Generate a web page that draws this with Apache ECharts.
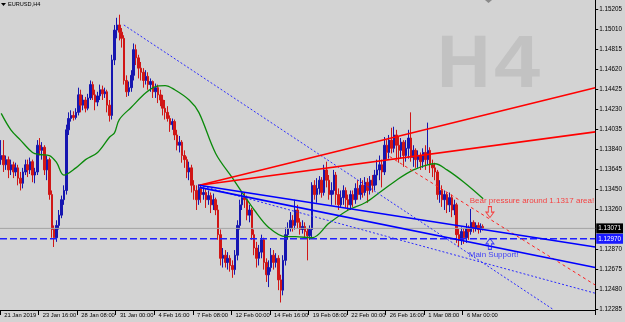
<!DOCTYPE html>
<html><head><meta charset="utf-8">
<script src="https://cdn.jsdelivr.net/npm/echarts@6/dist/echarts.min.js"></script>
<style>html,body{margin:0;padding:0;background:#d3d3d3}#c{width:625px;height:322px}</style>
</head><body><div id="c"></div>
<script>
// ---------- data ----------
const barCount = 247; // visible slots incl. right shift
const tickLabels = ['21 Jan 2019','23 Jan 16:00','28 Jan 08:00','31 Jan 00:00','4 Feb 16:00','7 Feb 08:00','12 Feb 00:00','14 Feb 16:00','19 Feb 08:00','22 Feb 00:00','26 Feb 16:00','1 Mar 08:00','6 Mar 00:00'];
const yTickValues = [1.15205,1.15010,1.14815,1.14620,1.14425,1.14230,1.14035,1.13840,1.13645,1.13450,1.13260,1.12870,1.12675,1.12480,1.12285];
const yMin = 1.12277, yMax = 1.15293;
const bidPrice = 1.13071;
const supportPrice = 1.12970;
// [open, close, low, high]
const candles = [
[1.1374,1.1378,1.1369,1.1393],[1.1378,1.1369,1.1362,1.1393],[1.1369,1.1374,1.1364,1.1378],[1.1374,1.1364,1.1356,1.1377],
[1.1364,1.1369,1.1359,1.1374],[1.1369,1.1362,1.1356,1.1372],[1.1362,1.1366,1.1358,1.1371],[1.1366,1.1356,1.1349,1.1369],
[1.1356,1.1351,1.1344,1.1362],[1.1351,1.1362,1.1346,1.1366],[1.1362,1.1369,1.1359,1.1374],[1.1369,1.1364,1.1357,1.1374],
[1.1364,1.1372,1.1360,1.1376],[1.1372,1.1359,1.1352,1.1374],[1.1359,1.1362,1.1351,1.1366],[1.1362,1.1388,1.1359,1.1393],
[1.1388,1.1383,1.1378,1.1395],[1.1383,1.1386,1.1374,1.1391],[1.1386,1.1364,1.1359,1.1388],[1.1364,1.1374,1.1354,1.1378],
[1.1374,1.1340,1.1335,1.1376],[1.1340,1.1306,1.1298,1.1344],[1.1306,1.1298,1.1289,1.1310],[1.1298,1.1310,1.1294,1.1315],
[1.1310,1.1320,1.1306,1.1325],[1.1320,1.1335,1.1317,1.1339],[1.1335,1.1344,1.1330,1.1349],[1.1344,1.1403,1.1340,1.1408],
[1.1403,1.1414,1.1398,1.1420],[1.1414,1.1417,1.1411,1.1422],[1.1417,1.1415,1.1412,1.1421],[1.1415,1.1420,1.1413,1.1424],
[1.1420,1.1437,1.1417,1.1444],[1.1437,1.1427,1.1420,1.1442],[1.1427,1.1432,1.1422,1.1437],[1.1432,1.1424,1.1420,1.1435],
[1.1424,1.1434,1.1422,1.1438],[1.1434,1.1447,1.1432,1.1451],[1.1447,1.1437,1.1432,1.1450],[1.1437,1.1430,1.1422,1.1442],
[1.1430,1.1436,1.1426,1.1440],[1.1436,1.1442,1.1432,1.1447],[1.1442,1.1438,1.1432,1.1446],[1.1438,1.1440,1.1434,1.1444],
[1.1440,1.1427,1.1420,1.1442],[1.1427,1.1417,1.1411,1.1432],[1.1417,1.1471,1.1413,1.1476],[1.1471,1.1500,1.1466,1.1505],
[1.1500,1.1505,1.1492,1.1512],[1.1505,1.1498,1.1490,1.1515],[1.1498,1.1492,1.1483,1.1502],[1.1492,1.1451,1.1447,1.1495],
[1.1451,1.1440,1.1435,1.1456],[1.1440,1.1444,1.1436,1.1450],[1.1444,1.1456,1.1440,1.1461],[1.1456,1.1481,1.1451,1.1487],
[1.1481,1.1473,1.1466,1.1486],[1.1473,1.1463,1.1453,1.1476],[1.1463,1.1459,1.1451,1.1469],[1.1459,1.1451,1.1444,1.1463],
[1.1451,1.1455,1.1447,1.1461],[1.1455,1.1447,1.1442,1.1459],[1.1447,1.1450,1.1440,1.1453],[1.1450,1.1440,1.1434,1.1451],
[1.1440,1.1444,1.1434,1.1448],[1.1444,1.1437,1.1429,1.1447],[1.1437,1.1432,1.1426,1.1442],[1.1432,1.1424,1.1417,1.1437],
[1.1424,1.1420,1.1413,1.1432],[1.1420,1.1414,1.1411,1.1426],[1.1414,1.1408,1.1401,1.1417],[1.1408,1.1411,1.1403,1.1414],
[1.1411,1.1398,1.1393,1.1413],[1.1398,1.1388,1.1383,1.1403],[1.1388,1.1391,1.1381,1.1397],[1.1391,1.1378,1.1371,1.1393],
[1.1378,1.1374,1.1366,1.1383],[1.1374,1.1362,1.1356,1.1377],[1.1362,1.1366,1.1354,1.1372],[1.1366,1.1349,1.1342,1.1369],
[1.1349,1.1344,1.1335,1.1354],[1.1344,1.1335,1.1325,1.1349],[1.1335,1.1346,1.1330,1.1350],[1.1346,1.1340,1.1332,1.1349],
[1.1340,1.1342,1.1335,1.1347],[1.1342,1.1335,1.1327,1.1346],[1.1335,1.1339,1.1330,1.1344],[1.1339,1.1330,1.1322,1.1342],
[1.1330,1.1335,1.1325,1.1341],[1.1335,1.1325,1.1320,1.1337],[1.1325,1.1301,1.1296,1.1330],[1.1301,1.1278,1.1271,1.1306],
[1.1278,1.1281,1.1269,1.1288],[1.1281,1.1274,1.1269,1.1286],[1.1274,1.1278,1.1267,1.1284],[1.1278,1.1271,1.1265,1.1281],
[1.1271,1.1267,1.1259,1.1276],[1.1267,1.1281,1.1262,1.1286],[1.1281,1.1310,1.1276,1.1315],[1.1310,1.1330,1.1306,1.1335],
[1.1330,1.1337,1.1325,1.1342],[1.1337,1.1335,1.1327,1.1342],[1.1335,1.1320,1.1315,1.1339],[1.1320,1.1325,1.1313,1.1330],
[1.1325,1.1301,1.1296,1.1327],[1.1301,1.1288,1.1281,1.1306],[1.1288,1.1278,1.1269,1.1294],[1.1278,1.1284,1.1271,1.1291],
[1.1284,1.1296,1.1278,1.1301],[1.1296,1.1274,1.1267,1.1298],[1.1274,1.1262,1.1255,1.1278],[1.1262,1.1269,1.1250,1.1276],
[1.1269,1.1281,1.1265,1.1288],[1.1281,1.1274,1.1267,1.1286],[1.1274,1.1278,1.1269,1.1283],[1.1278,1.1257,1.1247,1.1281],
[1.1257,1.1247,1.1235,1.1262],[1.1247,1.1276,1.1242,1.1281],[1.1276,1.1301,1.1271,1.1308],[1.1301,1.1307,1.1296,1.1313],
[1.1307,1.1315,1.1304,1.1323],[1.1315,1.1310,1.1304,1.1320],[1.1310,1.1325,1.1306,1.1335],[1.1325,1.1313,1.1307,1.1330],
[1.1313,1.1306,1.1301,1.1317],[1.1306,1.1309,1.1302,1.1315],[1.1309,1.1304,1.1298,1.1313],[1.1304,1.1300,1.1276,1.1307],
[1.1300,1.1306,1.1296,1.1310],[1.1306,1.1349,1.1298,1.1352],[1.1349,1.1340,1.1335,1.1354],[1.1340,1.1346,1.1332,1.1356],
[1.1346,1.1354,1.1340,1.1358],[1.1354,1.1342,1.1337,1.1357],[1.1342,1.1364,1.1339,1.1369],[1.1364,1.1354,1.1347,1.1372],
[1.1354,1.1340,1.1335,1.1359],[1.1340,1.1344,1.1330,1.1352],[1.1344,1.1359,1.1340,1.1364],[1.1359,1.1340,1.1330,1.1362],
[1.1340,1.1330,1.1325,1.1346],[1.1330,1.1337,1.1327,1.1344],[1.1337,1.1344,1.1330,1.1349],[1.1344,1.1335,1.1327,1.1347],
[1.1335,1.1330,1.1325,1.1340],[1.1330,1.1340,1.1325,1.1344],[1.1340,1.1335,1.1328,1.1344],[1.1335,1.1346,1.1331,1.1351],
[1.1346,1.1340,1.1335,1.1354],[1.1340,1.1349,1.1335,1.1356],[1.1349,1.1342,1.1337,1.1354],[1.1342,1.1352,1.1339,1.1357],
[1.1352,1.1344,1.1332,1.1356],[1.1344,1.1354,1.1340,1.1358],[1.1354,1.1349,1.1342,1.1359],[1.1349,1.1359,1.1344,1.1364],
[1.1359,1.1364,1.1349,1.1374],[1.1364,1.1369,1.1354,1.1378],[1.1369,1.1362,1.1347,1.1374],[1.1362,1.1388,1.1359,1.1396],
[1.1388,1.1381,1.1374,1.1393],[1.1381,1.1393,1.1375,1.1398],[1.1393,1.1385,1.1380,1.1405],[1.1385,1.1398,1.1381,1.1406],
[1.1398,1.1388,1.1374,1.1403],[1.1388,1.1383,1.1371,1.1396],[1.1383,1.1391,1.1375,1.1395],[1.1391,1.1378,1.1367,1.1393],
[1.1378,1.1385,1.1372,1.1393],[1.1385,1.1395,1.1375,1.1403],[1.1395,1.1376,1.1372,1.1420],[1.1376,1.1383,1.1367,1.1388],
[1.1383,1.1374,1.1366,1.1385],[1.1374,1.1378,1.1366,1.1383],[1.1378,1.1372,1.1364,1.1381],[1.1372,1.1381,1.1366,1.1385],
[1.1381,1.1374,1.1364,1.1388],[1.1374,1.1383,1.1369,1.1410],[1.1383,1.1369,1.1361,1.1386],[1.1369,1.1366,1.1357,1.1374],
[1.1366,1.1362,1.1354,1.1371],[1.1362,1.1340,1.1335,1.1364],[1.1340,1.1344,1.1332,1.1354],[1.1344,1.1335,1.1328,1.1349],
[1.1335,1.1340,1.1325,1.1344],[1.1340,1.1330,1.1322,1.1342],[1.1330,1.1337,1.1323,1.1342],[1.1337,1.1325,1.1318,1.1340],
[1.1325,1.1330,1.1320,1.1335],[1.1330,1.1301,1.1293,1.1332],[1.1301,1.1296,1.1289,1.1307],[1.1296,1.1304,1.1291,1.1308],
[1.1304,1.1298,1.1292,1.1307],[1.1298,1.1307,1.1293,1.1312],[1.1307,1.1304,1.1296,1.1310],[1.1304,1.1313,1.1301,1.1326],
[1.1313,1.1307,1.1303,1.1315],[1.1307,1.1310,1.1304,1.1313],[1.1310,1.1306,1.1302,1.1313],[1.1306,1.1309,1.1303,1.1312],
[1.1309,1.13071,1.1305,1.1311]
];
// moving average
const maBars   = [0,4,8,13,16,20,23,26,31,35,40,45,47,49,54,60,64,68,72,78,82,89,96,100,105,111,118,122,129,136,144,151,157,164,171,177,180,185,192,200];
const maValues = [1.1419,1.1403,1.1393,1.1381,1.1379,1.1378,1.1371,1.1359,1.1366,1.1374,1.1381,1.1396,1.1400,1.1413,1.1425,1.1439,1.1445,1.1446,1.1442,1.1432,1.1420,1.1380,1.1356,1.1342,1.1325,1.1308,1.1299,1.1299,1.1298,1.1312,1.1325,1.1332,1.1342,1.1354,1.1364,1.1369,1.1370,1.1364,1.1352,1.1336];
// trend lines: [barIndex, price] end points
const peakDotted  = [[50.9,1.1505],[229.2,1.1228]];
const redUpper    = [[82.2,1.1349],[246.5,1.1444]];
const redLower    = [[82.2,1.1349],[246.5,1.1401]];
const blueUpper   = [[82.2,1.1349],[246.5,1.1289]];
const blueLower   = [[82.2,1.1347],[246.5,1.1269]];
const blueDotted2 = [[82.2,1.1349],[246.5,1.1244]];
const redDashed   = [[161.2,1.1377],[246.5,1.1252]];
// horizontal levels span
const levelSpan   = [-0.5, 246.5];
// annotations: [barIndex, price]
const bearNote    = [194.2,1.1334];
const bearArrow   = [202.8,1.1323];
const supportArrow= [202.8,1.1292];
const supportNote = [193.8,1.1281];

// ---------- build ----------
const categories = [];
let t = Date.UTC(2019,0,21,0);
while (categories.length < barCount) {
  const d = new Date(t), wd = d.getUTCDay();
  if (wd !== 0 && wd !== 6) categories.push(d.toISOString().slice(0,16));
  t += 4*3600e3;
}
const maData = maBars.map((b,i)=>[b, maValues[i]]);
const FONT = 'Liberation Sans';
const showTick = (idx) => idx % 16 === 0 && idx < candles.length;

function tl(name, pts, color, width, type) {
  return {name, type:'line', xAxisIndex:1, yAxisIndex:0, data:pts, symbol:'none', silent:true, z:4,
    lineStyle:{color, width, type}, animation:false};
}
function level(name, price, color, width, type, boxColor) {
  return {name, type:'line', xAxisIndex:1, yAxisIndex:0, symbol:'none', silent:true, z:3, clip:false,
    data:[[levelSpan[0], price],[levelSpan[1], price]],
    lineStyle:{color, width, type},
    endLabel:{show:true, distance:1, formatter:()=>price.toFixed(5), backgroundColor:boxColor, color:'#fff',
      fontFamily:FONT, fontSize:6.3, lineHeight:8, padding:[1,2,1,2]}};
}

const chart = echarts.init(document.getElementById('c'), null, {renderer:'canvas'});
chart.setOption({
  animation:false,
  backgroundColor:'#d3d3d3',
  grid:{left:-2.7, right:28, top:0, bottom:12, containLabel:false},
  xAxis:[{
    type:'category', data:categories, boundaryGap:true,
    axisLine:{show:true, lineStyle:{color:'#000', width:1}},
    axisTick:{show:true, interval:showTick, length:5, lineStyle:{color:'#000'}},
    axisLabel:{show:true, interval:showTick, align:'left', margin:2, padding:[0,0,0,3],
      fontFamily:FONT, fontSize:5.8, color:'#000',
      formatter:(v, idx)=> tickLabels[idx/16] || ''},
    splitLine:{show:false}
  },{
    type:'value', min:-0.5, max:barCount-0.5, show:false
  }],
  yAxis:[{
    type:'value', position:'right', min:yMin, max:yMax,
    axisLine:{show:true, onZero:false, lineStyle:{color:'#000', width:1}},
    axisTick:{show:true, customValues:yTickValues, length:3, lineStyle:{color:'#000'}},
    axisLabel:{show:true, customValues:yTickValues, margin:4, fontFamily:FONT, fontSize:6.3, color:'#000',
      formatter:(v)=>v.toFixed(5)},
    splitLine:{show:false}
  }],
  graphic:[
    {type:'text', left:437, top:30, z:0, silent:true,
      style:{text:'H', fontFamily:FONT, fontWeight:'bold', fontSize:74, fill:'#c2c2c2'}},
    {type:'text', left:494, top:30, z:0, silent:true, scaleX:1.12,
      style:{text:'4', fontFamily:FONT, fontWeight:'bold', fontSize:74, fill:'#c2c2c2'}},
    {type:'polygon', silent:true, shape:{points:[[1,3],[6,3],[3.5,6]]}, style:{fill:'#000'}},
    {type:'text', left:8, top:1, silent:true,
      style:{text:'EURUSD,H4', fontFamily:FONT, fontSize:5.6, fill:'#000'}},
    {type:'polygon', silent:true, shape:{points:[[485,0],[492,0],[488.5,3]]}, style:{fill:'#8a8a8a'}}
  ],
  series:[
    level('bid', bidPrice, '#a3a3a3', 1, 'solid', '#000'),
    level('support', supportPrice, '#1f1fff', 1.5, [7,3], '#1a1aff'),
    {name:'EURUSD', type:'candlestick', data:candles, barWidth:2, z:2,
      itemStyle:{color:'#1616b0', color0:'#d01616', borderColor:'#1616b0', borderColor0:'#d01616', borderWidth:1}},
    {name:'MA', type:'line', xAxisIndex:1, data:maData, symbol:'none', smooth:0.35, z:3,
      lineStyle:{color:'#0a8a0a', width:1.3}, silent:true},
    tl('peakDotted', peakDotted, '#2a2aff', 1, [2,2]),
    tl('blueDotted2', blueDotted2, '#2a2aff', 1, [2,2]),
    tl('redDashed', redDashed, '#ff2020', 1, [3,3]),
    tl('redUpper', redUpper, '#ff0000', 1.6, 'solid'),
    tl('redLower', redLower, '#ff0000', 1.6, 'solid'),
    tl('blueUpper', blueUpper, '#0000ff', 1.6, 'solid'),
    tl('blueLower', blueLower, '#0000ff', 1.6, 'solid'),
    {name:'notes', type:'scatter', xAxisIndex:1, z:5, silent:true,
      data:[
        {value:bearNote, symbolSize:1, itemStyle:{color:'rgba(0,0,0,0)'},
          label:{show:true, position:'right', distance:0, formatter:'Bear pressure around 1.1317 area!', color:'#ff1a1a', fontFamily:FONT, fontSize:8}},
        {value:supportNote, symbolSize:1, itemStyle:{color:'rgba(0,0,0,0)'},
          label:{show:true, position:'right', distance:0, formatter:'Main Support!', color:'#1a1aff', fontFamily:FONT, fontSize:8}},
        {value:bearArrow, symbol:'path://M3,0 L7,0 L7,6 L10,6 L5,12 L0,6 L3,6 Z', symbolSize:[8,11], symbolKeepAspect:false,
          itemStyle:{color:'rgba(0,0,0,0)', borderColor:'#ff1a1a', borderWidth:1}},
        {value:supportArrow, symbol:'path://M5,0 L10,6 L7,6 L7,12 L3,12 L3,6 L0,6 Z', symbolSize:[8,11], symbolKeepAspect:false,
          itemStyle:{color:'rgba(0,0,0,0)', borderColor:'#1a1aff', borderWidth:1}}
      ]}
  ]
});
</script>
</body></html>
